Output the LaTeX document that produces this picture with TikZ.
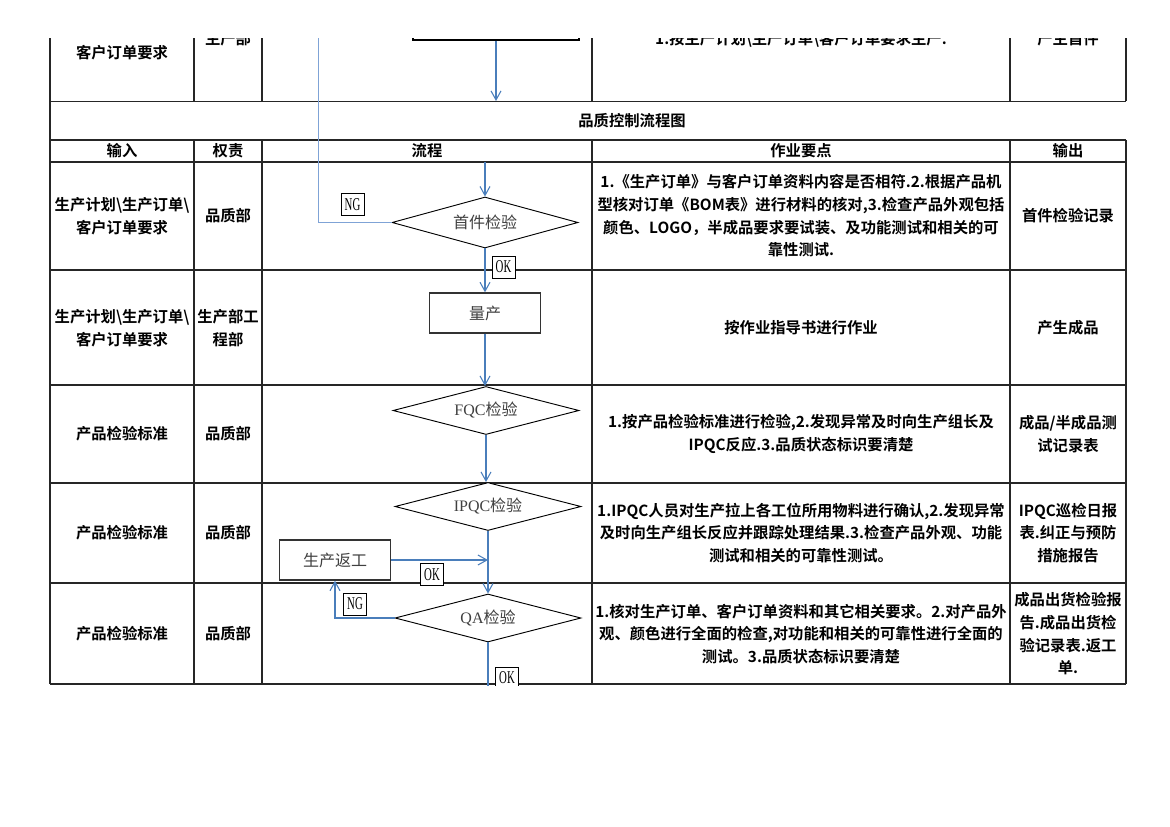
\documentclass[tikz,border=0pt]{standalone}
\usepackage{fontspec}
\usetikzlibrary{shapes.geometric,arrows.meta,positioning}
\newfontfamily\cellfont{Noto Sans CJK SC Bold}
\newfontfamily\flowfont{Noto Sans CJK SC}
\newfontfamily\latinfont{Liberation Serif}
\newfontfamily\tagfont{Liberation Serif}[FakeStretch=0.6]
\definecolor{gridline}{HTML}{262626}
\definecolor{flowblue}{HTML}{4A7EBB}
\definecolor{loopblue}{HTML}{7FA3D6}
\definecolor{flowtext}{HTML}{404040}
\tikzset{
  cell/.style={font=\cellfont\fontsize{11.5pt}{17pt}\selectfont, align=center, inner sep=0pt},
  grid/.style={draw=gridline, line width=1.1pt},
  decision/.style={diamond, draw, fill=white, line width=0.7pt, aspect=3.7, inner sep=0pt,
    minimum width=139.5pt, minimum height=36pt, text=flowtext,
    font=\flowfont\fontsize{12pt}{14pt}\selectfont},
  process/.style={rectangle, draw=black!80, fill=white, line width=1pt, inner sep=0pt,
    minimum width=83.5pt, minimum height=30pt, text=flowtext,
    font=\flowfont\fontsize{12pt}{14pt}\selectfont},
  tag/.style={rectangle, draw, fill=white, line width=0.6pt, inner sep=0pt,
    minimum width=17.25pt, minimum height=16.5pt, font=\tagfont\fontsize{13.5pt}{14pt}\selectfont},
  flow/.style={draw=flowblue, line width=0.8pt, -{Straight Barb[length=6.75pt,width=7.5pt]}},
  loop/.style={draw=loopblue, line width=1.4pt},
}
\begin{document}
\begin{tikzpicture}[x=0.75pt,y=-0.75pt]
\useasboundingbox (0,0) rectangle (1170,827);
\fill[white] (0,0) rectangle (1170,827);
\begin{scope}
\clip (0,39) rectangle (1170,685.5);

% table
\draw[grid] (50,0) -- (50,684);
\foreach \x in {194,262,592,1010,1126}
  \draw[grid] (\x,0) -- (\x,101.5) (\x,140) -- (\x,684);
\foreach \y in {101.5,140,162,270,385,483,583,684}
  \draw[grid] (50,\y) -- (1126,\y);

\node[cell] (in0) at (122,41) {生产计划\textbackslash 生产订单\textbackslash\\客户订单要求};
\node[cell] (duty0) at (228,39) {生产部};
\node[cell] (work0) at (801,39) {1.按生产计划\textbackslash 生产订单\textbackslash 客户订单要求生产.};
\node[cell] (out0) at (1068,39) {产生首件};

\node[cell] (title) at (632,121) {品质控制流程图};

\node[cell] (hin) at (122,151) {输入};
\node[cell] (hduty) at (228,151) {权责};
\node[cell] (hflow) at (427,151) {流程};
\node[cell] (hwork) at (801,151) {作业要点};
\node[cell] (hout) at (1068,151) {输出};

\node[cell] (in1) at (122,216) {生产计划\textbackslash 生产订单\textbackslash\\客户订单要求};
\node[cell] (duty1) at (228,216) {品质部};
\node[cell] (work1) at (801,216) {1.《生产订单》与客户订单资料内容是否相符.2.根据产品机\\型核对订单《BOM表》进行材料的核对,3.检查产品外观包括\\颜色、LOGO，半成品要求要试装、及功能测试和相关的可\\靠性测试.};
\node[cell] (out1) at (1068,216) {首件检验记录};

\node[cell] (in2) at (122,328) {生产计划\textbackslash 生产订单\textbackslash\\客户订单要求};
\node[cell] (duty2) at (228,328) {生产部工\\程部};
\node[cell] (work2) at (801,328) {按作业指导书进行作业};
\node[cell] (out2) at (1068,328) {产生成品};

\node[cell] (in3) at (122,434) {产品检验标准};
\node[cell] (duty3) at (228,434) {品质部};
\node[cell] (work3) at (801,434) {1.按产品检验标准进行检验,2.发现异常及时向生产组长及\\IPQC反应.3.品质状态标识要清楚};
\node[cell] (out3) at (1068,434) {成品/半成品测\\试记录表};

\node[cell] (in4) at (122,533) {产品检验标准};
\node[cell] (duty4) at (228,533) {品质部};
\node[cell] (work4) at (801,533) {1.IPQC人员对生产拉上各工位所用物料进行确认,2.发现异常\\及时向生产组长反应并跟踪处理结果.3.检查产品外观、功能\\测试和相关的可靠性测试。};
\node[cell] (out4) at (1068,533) {IPQC巡检日报\\表.纠正与预防\\措施报告};

\node[cell] (in5) at (122,634) {产品检验标准};
\node[cell] (duty5) at (228,634) {品质部};
\node[cell] (work5) at (801,634) {1.核对生产订单、客户订单资料和其它相关要求。2.对产品外\\观、颜色进行全面的检查,对功能和相关的可靠性进行全面的\\测试。3.品质状态标识要清楚};
\node[cell] (out5) at (1068,634) {成品出货检验报\\告.成品出货检\\验记录表.返工\\单.};

% flow
\node[process, draw=black, line width=0.8pt, minimum width=124.5pt, minimum height=37.5pt] (plan) at (496,15) {};
\coordinate (titletop) at (496,101);
\coordinate (flowin) at (485,162);
\coordinate (looptop) at (318.5,0);
\coordinate (flowout) at (488,700);
\node[decision, minimum height=38.25pt] (first) at (485,222.5) {首件检验};
\node[process] (mass) at (485,313) {量产};
\node[decision] (fqc) at (486,410.5) {{\latinfont FQC}检验};
\node[decision] (ipqc) at (488,506.5) {{\latinfont IPQC}检验};
\node[process] (rework) at (335,560) {生产返工};
\node[decision] (qa) at (488,618) {{\latinfont QA}检验};

\draw[flow] (plan) -- (titletop);
\draw[loop] (first.west) -- (first.west -| looptop) -- (looptop);
\draw[flow] (flowin) -- (first);
\draw[flow] (first) -- (mass);
\draw[flow] (mass.south) -- (mass.south |- fqc.north);
\draw[flow] (fqc.south) -- (fqc.south |- ipqc.north);
\draw[flow] (ipqc) -- (qa);
\draw[flow] (rework.east) -- (rework.east -| ipqc.south);
\draw[flow] (qa.west) -- (qa.west -| rework.south) -- (rework.south);
\draw[draw=flowblue, line width=0.8pt] (qa) -- (flowout);

\node[tag] (ng1) at (352.5,204.5) {NG};
\node[tag] (ok1) at (503.5,267) {OK};
\node[tag] (ok2) at (432,574.5) {OK};
\node[tag] (ng2) at (355,604) {NG};
\node[tag] (ok3) at (507,678) {OK};
\end{scope}
\end{tikzpicture}
\end{document}
